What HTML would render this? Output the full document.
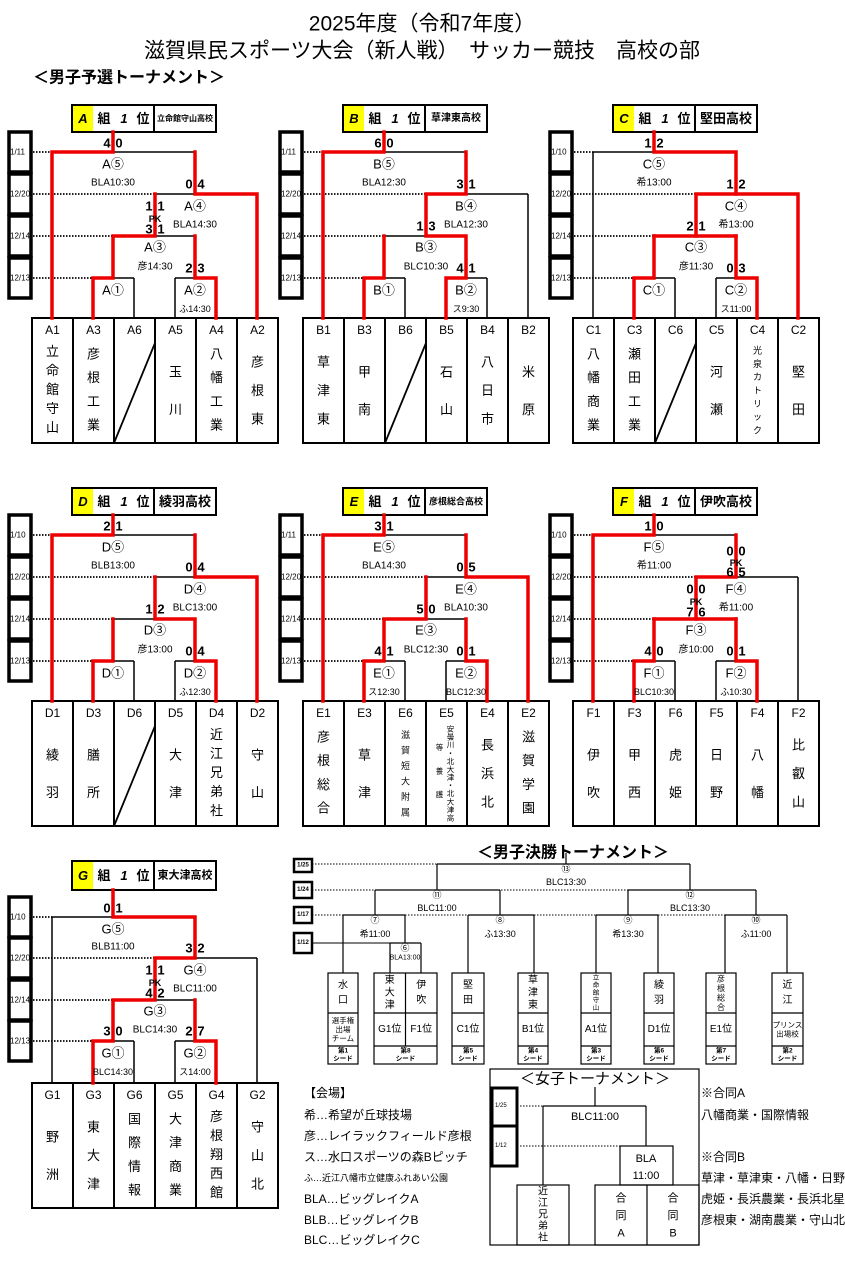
<!DOCTYPE html>
<html><head><meta charset="utf-8"><style>
body{margin:0;background:#fff}
svg text{font-family:"Liberation Sans","Noto Sans CJK JP",sans-serif;dominant-baseline:central}
</style></head><body>
<svg id="s" width="845" height="1257" xmlns="http://www.w3.org/2000/svg"></svg>
<script>
var out='';
function L(x1,y1,x2,y2,w,c,d){w=w||1.5;c=c||'#000';out+='<line x1="'+x1+'" y1="'+y1+'" x2="'+x2+'" y2="'+y2+'" stroke="'+c+'" stroke-width="'+w+'"'+(d?' stroke-dasharray="'+d+'"':'')+'/>';}
function P(pts){out+='<polyline points="'+pts.join(' ')+'" fill="none" stroke="#ee0000" stroke-width="3.5" stroke-linejoin="miter" stroke-linecap="square"/>';}
function T(x,y,s,fs,o,anc){out+='<text x="'+x+'" y="'+y+'" font-size="'+(fs||12)+'" text-anchor="'+(anc||'middle')+'" '+(o||'')+'>'+s+'</text>';}
function Rc(x,y,w,h,sw,f){out+='<rect x="'+x+'" y="'+y+'" width="'+w+'" height="'+h+'" fill="'+(f||'none')+'" stroke="#000" stroke-width="'+(sw||1.5)+'"/>';}
function V(x,top,bot,s,fs){var n=s.length,h=bot-top;for(var i=0;i<n;i++){T(x,top+h*(i+0.5)/n,s[i],fs||13);}}
var B='font-weight="bold"';
T(422,24,'2025年度（令和7年度）',21);
T(422,51,'滋賀県民スポーツ大会（新人戦）　サッカー競技　高校の部',21);
T(33,78,'＜男子予選トーナメント＞',16,B,'start');
var R=[{H0:105,H1:132,y:[152,194,236,278],bt:318,bb:443},
{H0:488,H1:515,y:[535,577,619,661],bt:701,bb:826},
{H0:861,H1:890,y:[917,958,1000,1041],bt:1083,bb:1208}];
var G=[
{L:'A',dx:0,r:0,d:'1/11',nm:'立命館守山高校',nf:8,s:['4 0','0 4','1 1','','2 3'],pk3:'3 1',t:['BLA10:30','BLA14:30','彦14:30','','ふ14:30'],
 tm:['立命館守山','彦根工業','','玉川','八幡工業','彦根東'],
 red:[[52,'B',52,5,113,5,113,'H'],[195,5,195,4,257,4,257,'B'],[155,4,155,3,113,3,113,1,93,1,93,'B'],[195,3,195,1,216,1,216,'B']]},
{L:'B',dx:271,r:0,d:'1/11',nm:'草津東高校',nf:10,s:['6 0','3 1','1 3','','4 1'],t:['BLA12:30','BLA12:30','BLC10:30','','ス9:30'],
 tm:['草津東','甲南','','石山','八日市','米原'],
 red:[[52,'B',52,5,113,5,113,'H'],[195,5,195,4,155,4,155,3,195,3,195,1,175,1,175,'B'],[113,3,113,1,93,1,93,'B']]},
{L:'C',dx:541,r:0,d:'1/10',nm:'堅田高校',nf:13,s:['1 2','1 2','2 1','','0 3'],t:['希13:00','希13:00','彦11:30','','ス11:00'],
 tm:['八幡商業','瀬田工業','','河瀬','光泉カトリック','堅田'],
 red:[[113,'H',113,5,195,5,195,4,257,4,257,'B'],[155,3,155,4,195,4],[113,3,195,3],[113,3,113,1,93,1,93,'B'],[195,3,195,1,216,1,216,'B']]},
{L:'D',dx:0,r:1,d:'1/10',nm:'綾羽高校',nf:13,s:['2 1','0 4','1 2','','0 4'],t:['BLB13:00','BLC13:00','彦13:00','','ふ12:30'],
 tm:['綾羽','膳所','','大津','近江兄弟社','守山'],
 red:[[52,'B',52,5,113,5,113,'H'],[195,5,195,4,257,4,257,'B'],[155,4,155,3,195,3,195,1,216,1,216,'B'],[113,3,113,1,93,1,93,'B']]},
{L:'E',dx:271,r:1,d:'1/11',nm:'彦根総合高校',nf:9,s:['3 1','0 5','5 0','4 1','0 1'],t:['BLA14:30','BLA10:30','BLC12:30','ス12:30','BLC12:30'],
 tm:['彦根総合','草津','滋賀短大附属','*','長浜北','滋賀学園'],
 red:[[52,'B',52,5,113,5,113,'H'],[195,5,195,4,257,4,257,'B'],[155,4,155,3,113,3,113,1,93,1,93,'B'],[195,3,195,1,216,1,216,'B']]},
{L:'F',dx:541,r:1,d:'1/10',nm:'伊吹高校',nf:13,s:['1 0','0 0','0 0','4 0','0 1'],pk4:'6 5',pk3:'7 6',t:['希11:00','希11:00','彦10:00','BLC10:30','ふ10:30'],
 tm:['伊吹','甲西','虎姫','日野','八幡','比叡山'],
 red:[[52,'B',52,5,113,5,113,'H'],[195,5,195,4,155,4,155,3],[113,3,195,3],[113,3,113,1,93,1,93,'B'],[195,3,195,1,216,1,216,'B']]},
{L:'G',dx:0,r:2,d:'1/10',nm:'東大津高校',nf:11,s:['0 1','3 2','1 1','3 0','2 7'],pk3:'4 2',t:['BLB11:00','BLC11:00','BLC14:30','BLC14:30','ス14:00'],
 tm:['野洲','東大津','国際情報','大津商業','彦根翔西館','守山北'],
 red:[[113,'H',113,5,195,5,195,4,155,4,155,3,113,3,113,1,93,1,93,'B'],[195,3,195,1,216,1,216,'B']]}
];
function score(x,y,s){if(!s)return;var p=s.split(' ');T(x-6,y,p[0],13,B);T(x+6,y,p[1],13,B);}
G.forEach(function(g){
 var r=R[g.r],X=g.dx,y5=r.y[0],y4=r.y[1],y3=r.y[2],y1=r.y[3],bt=r.bt,bb=r.bb;
 Rc(X+72,r.H0,144,r.H1-r.H0,2);
 out+='<rect x="'+(X+73)+'" y="'+(r.H0+1)+'" width="20" height="'+(r.H1-r.H0-2)+'" fill="#ffff00"/>';
 L(X+154,r.H0,X+154,r.H1,2);
 var hy=(r.H0+r.H1)/2;
 T(X+83,hy,g.L,13,B+' font-style="italic"');T(X+104,hy,'組',13,B);T(X+124,hy,'1',13,B+' font-style="italic"');T(X+143,hy,'位',13,B);
 T(X+185,hy,g.nm,g.nf,B);
 var ds=[g.d,'12/20','12/14','12/13'];
 for(var i=0;i<4;i++){Rc(X+9,r.y[i]-20,22,40,3.5);T(X+10,r.y[i],ds[i],8,'','start');}
 var st=[52,155,113,93];
 for(var i=0;i<4;i++)L(X+33,r.y[i],X+st[i],r.y[i],1.8,'#000','1.5,1.5');
 L(X+52,y5,X+195,y5);L(X+113,r.H1,X+113,y5);L(X+52,y5,X+52,bt);
 L(X+155,y4,X+257,y4);L(X+195,y5,X+195,y4);L(X+257,y4,X+257,bt);
 L(X+113,y3,X+195,y3);L(X+155,y4,X+155,y3);
 L(X+93,y1,X+134,y1);L(X+113,y3,X+113,y1);L(X+93,y1,X+93,bt);L(X+134,y1,X+134,bt);
 L(X+175,y1,X+216,y1);L(X+195,y3,X+195,y1);L(X+175,y1,X+175,bt);L(X+216,y1,X+216,bt);
 Rc(X+32,bt,246,bb-bt,2);
 for(var i=1;i<6;i++)L(X+32+41*i,bt,X+32+41*i,bb,2);
 var cl=['1','3','6','5','4','2'];
 for(var i=0;i<6;i++){var cx=X+52.5+41*i;T(cx,bt+12,g.L+cl[i],12);
  var nm=g.tm[i];
  if(nm===''){L(X+114,bb,X+155,bt+25,1.8);}
  else if(nm==='*'){V(cx+4,bt+24,bb-4,'安曇川・北大津・北大津高',7.5);V(cx-7,bt+35,bb-20,'等養護',7.5);}
  else if(nm.length>5){V(cx,bt+26,bb-6,nm,9);}
  else {var n=nm.length;var top=bt+24,bot=bb-6;if(n<=2){top=bt+35;bot=bb-15;} else if(n==3){top=bt+30;bot=bb-10;}V(cx,top,bot,nm,13);}
 }
 g.red.forEach(function(p){var a=[];for(var i=0;i<p.length;i+=2){var yv=p[i+1];yv=yv==='B'?bt:yv==='H'?r.H1:yv==5?y5:yv==4?y4:yv==3?y3:y1;a.push((X+p[i])+','+yv);}P(a);});
 T(X+113,y5+12,g.L+'⑤',13);T(X+113,y4-11,g.t[0],10);
 T(X+195,y4+12,g.L+'④',13);T(X+195,y3-11,g.t[1],10);
 T(X+155,y3+11,g.L+'③',13);T(X+155,y1-11,g.t[2],10);
 T(X+113,y1+12,g.L+'①',13);if(g.t[3])T(X+113,y1+31,g.t[3],9);
 T(X+195,y1+12,g.L+'②',13);T(X+195,y1+31,g.t[4],9);
 score(X+113,y5-9,g.s[0]);
 if(g.pk4){score(X+195,y4-26,g.s[1]);T(X+195,y4-14,'PK',9,B);score(X+195,y4-5,g.pk4);}else score(X+195,y4-10,g.s[1]);
 if(g.pk3){score(X+155,y3-30,g.s[2]);T(X+155,y3-17,'PK',9,B);score(X+155,y3-7,g.pk3);}else score(X+155,y3-10,g.s[2]);
 score(X+113,y1-10,g.s[3]);score(X+195,y1-10,g.s[4]);
});
T(573,853,'＜男子決勝トーナメント＞',16,B);
var fd=[['1/25',859,13],['1/24',882,16],['1/17',907,16],['1/12',933,20]];
fd.forEach(function(d){Rc(294,d[1],18,d[2],2.5);T(303,d[1]+d[2]/2,d[0],6,B);});
var Y1=864,Y2=890,Y3=915,Y4=943,BT=973,R1=1013,R2=1046,BB=1064;
L(312,Y1,437,Y1,1,'#000','1.5,1.5');L(312,Y2,375,Y2,1,'#000','1.5,1.5');L(312,Y3,343,Y3,1,'#000','1.5,1.5');L(312,Y4,390,Y4,1);
L(375,Y2,628,Y2,1,'#000','1.5,1.5');L(405,Y3,468,Y3,1,'#000','1.5,1.5');L(534,Y3,596,Y3,1,'#000','1.5,1.5');L(658,Y3,725,Y3,1,'#000','1.5,1.5');
L(437,Y1,690,Y1,1.2);L(566,853,566,Y1,1.2);T(566,869,'⑬',9);T(566,882,'BLC13:30',9);
L(375,Y2,500,Y2,1.2);L(437,Y1,437,Y2,1.2);T(437,895,'⑪',9);T(437,908,'BLC11:00',9);
L(628,Y2,756,Y2,1.2);L(690,Y1,690,Y2,1.2);T(690,895,'⑫',9);T(690,908,'BLC13:30',9);
var m2=[[343,405,375,'⑦','希11:00'],[468,534,500,'⑧','ふ13:30'],[596,658,628,'⑨','希13:30'],[725,787,756,'⑩','ふ11:00']];
m2.forEach(function(m){L(m[0],Y3,m[1],Y3,1.2);L(m[2],Y2,m[2],Y3,1.2);T(m[2],920,m[3],9);T(m[2],934,m[4],9);});
L(390,Y4,421,Y4,1.2);L(405,Y3,405,Y4,1.2);T(405,948,'⑥',9);T(405,958,'BLA13:00',7);
[343,468,534,596,658,725,787].forEach(function(x){L(x,Y3,x,BT,1.2);});
L(390,Y4,390,BT,1.2);L(421,Y4,421,BT,1.2);
var fb=[[328,358,[['水口']],[['選手権','出場','チーム']],'第1'],[374,437,[['東大津'],['伊吹']],[['G1位'],['F1位']],'第8'],
[452,484,[['堅田']],[['C1位']],'第5'],[518,548,[['草津東']],[['B1位']],'第4'],[581,611,[['立命館守山']],[['A1位']],'第3'],
[644,674,[['綾羽']],[['D1位']],'第6'],[706,736,[['彦根総合']],[['E1位']],'第7'],[772,803,[['近江']],[['プリンス','出場校']],'第2']];
fb.forEach(function(b){var x0=b[0],x1=b[1],w=x1-x0;Rc(x0,BT,w,BB-BT,1.2);L(x0,R1,x1,R1,1.2);L(x0,R2,x1,R2,1.2);
 var n=b[2].length,cw=w/n;if(n>1)L(x0+cw,BT,x0+cw,R2,1.2);
 for(var k=0;k<n;k++){var cx=x0+cw*(k+0.5);var s=b[2][k][0];var fs=s.length>4?6.5:s.length>3?8:10;var top=BT+(s.length<=2?5:1),bot=R1-(s.length<=2?5:1);V(cx,top,bot,s,fs);
  var l2=b[3][k];for(var j=0;j<l2.length;j++){T(cx,(R1+R2)/2+(j-(l2.length-1)/2)*9,l2[j],l2.length>1?7.5:10);}}
 T((x0+x1)/2,1051,b[4],6.5,B);T((x0+x1)/2,1059,'シード',6.5,B);});
Rc(490,1069,209,176,1.2);
T(595,1079,'＜女子トーナメント＞',15);
Rc(492,1088,25,38,3);Rc(492,1126,25,40,3);T(495,1106,'1/25',6,'','start');T(495,1146,'1/12',6,'','start');
L(517,1106,543,1106,1,'#000','1.5,1.5');L(517,1146,620,1146,1,'#000','1.5,1.5');
L(543,1106,646,1106,1.2);L(595,1087,595,1106,1.2);T(595,1117,'BLC11:00',11);
L(646,1106,646,1146,1.2);Rc(620,1146,53,39,1.2);T(646,1159,'BLA',11);T(646,1176,'11:00',11);
L(543,1106,543,1185,1.2);
Rc(517,1185,52,60,1.2);V(543,1186,1244,'近江兄弟社',10);
Rc(595,1185,104,60,1.2);L(647,1185,647,1245,1.2);V(621,1190,1242,'合同A',11);V(673,1190,1242,'合同B',11);
var lg=[['【会場】',1093,12],['希…希望が丘球技場',1115,12],['彦…レイラックフィールド彦根',1136,12],['ス…水口スポーツの森Bピッチ',1157,12],['ふ…近江八幡市立健康ふれあい公園',1178,9],['BLA…ビッグレイクA',1199,12],['BLB…ビッグレイクB',1220,12],['BLC…ビッグレイクC',1240,12]];
lg.forEach(function(l){T(304,l[1],l[0],l[2],'','start');});
var rg=[['※合同A',1093],['八幡商業・国際情報',1115],['※合同B',1157],['草津・草津東・八幡・日野',1178],['虎姫・長浜農業・長浜北星',1199],['彦根東・湖南農業・守山北',1220]];
rg.forEach(function(l){T(701,l[1],l[0],12,'','start');});
document.getElementById('s').innerHTML=out;
</script>
</body></html>
